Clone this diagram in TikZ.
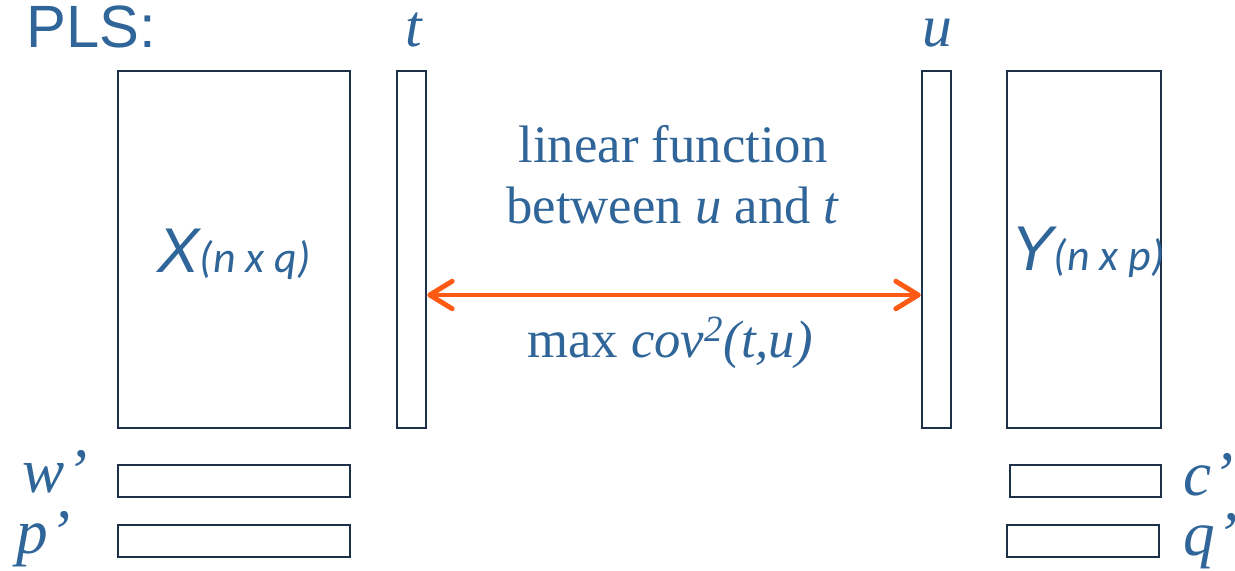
\documentclass[tikz,border=0pt]{standalone}
\usepackage{fontspec}
\setmainfont{Liberation Serif}
\newfontfamily\arialf{Liberation Sans}
\newfontfamily\calf{Carlito}
\usepackage{xcolor}
\usetikzlibrary{arrows.meta, calc}

\definecolor{txtblue}{HTML}{2F6599}
\definecolor{boxline}{HTML}{1C3048}
\definecolor{arrorange}{HTML}{FF5A14}

\begin{document}
\begin{tikzpicture}[
  x=0.02cm, y=-0.02cm,
  mat/.style={rectangle, draw=boxline, line width=1.4pt, inner sep=0pt, minimum height=7.14cm},
  vec/.style={rectangle, draw=boxline, line width=1.4pt, inner sep=0pt, minimum height=0.64cm},
  lbl/.style={anchor=base, text=txtblue, inner sep=1pt, font=\fontsize{36}{40}\selectfont\itshape},
  mid/.style={anchor=base, text=txtblue, font=\fontsize{30}{34}\selectfont}
]
  \useasboundingbox (0,0) rectangle (1235,571);

  \node[anchor=base west, text=txtblue, font=\arialf\fontsize{34}{38}\selectfont] (title) at (20,48) {PLS:};

  % data blocks
  \node[mat, minimum width=4.64cm] (X) at (234,249.5) {};
  \node[mat, minimum width=0.58cm] (t) at (411.5,249.5) {};
  \node[mat, minimum width=0.58cm] (u) at (936.5,249.5) {};
  \node[mat, minimum width=3.08cm] (Y) at (1084,249.5) {};

  % loading rows
  \node[vec, minimum width=4.64cm] (w) at (234,481) {};
  \node[vec, minimum width=4.64cm] (p) at (234,541) {};
  \node[vec, minimum width=3.02cm] (c) at (1085.5,481) {};
  \node[vec, minimum width=3.04cm] (q) at (1083,541) {};

  \node[lbl, font=\fontsize{34}{38}\selectfont\itshape] (tlbl) at (414,47) {t};
  \node[lbl, font=\fontsize{34}{38}\selectfont\itshape] (ulbl) at (937,47) {u};
  \node[lbl, anchor=base west] (wlbl) at (20,492) {w\kern1pt’};
  \node[lbl, anchor=base west] (plbl) at (14,553) {p\kern1pt’};
  \node[lbl, anchor=base west] (clbl) at (1181,495) {c\kern1pt’};
  \node[lbl, anchor=base west] (qlbl) at (1181,555) {q\kern1pt’};

  \node[anchor=base, text=txtblue] (Xlbl) at (234,273)
    {{\arialf\itshape\fontsize{36}{40}\selectfont X}{\calf\itshape\fontsize{25}{28}\selectfont (n x q)}};
  \node[anchor=base, text=txtblue] (Ylbl) at (1088,271)
    {{\arialf\itshape\fontsize{36}{40}\selectfont Y}{\calf\itshape\fontsize{25}{28}\selectfont (n x p)}};

  \node[mid] (lin1) at (673,163) {linear function};
  \node[mid] (lin2) at (673,223) {between \textit{u} and \textit{t}};
  \node[mid] (cov) at (670,357) {max \textit{cov\textsuperscript{2}(t,u)}};

  \draw[{Straight Barb[length=0.45cm, width=0.55cm, round]}-{Straight Barb[length=0.45cm, width=0.55cm, round]},
        draw=arrorange, line width=2.8pt]
    ([yshift=-0.91cm]t.east) -- ([yshift=-0.91cm]u.west);
\end{tikzpicture}
\end{document}
